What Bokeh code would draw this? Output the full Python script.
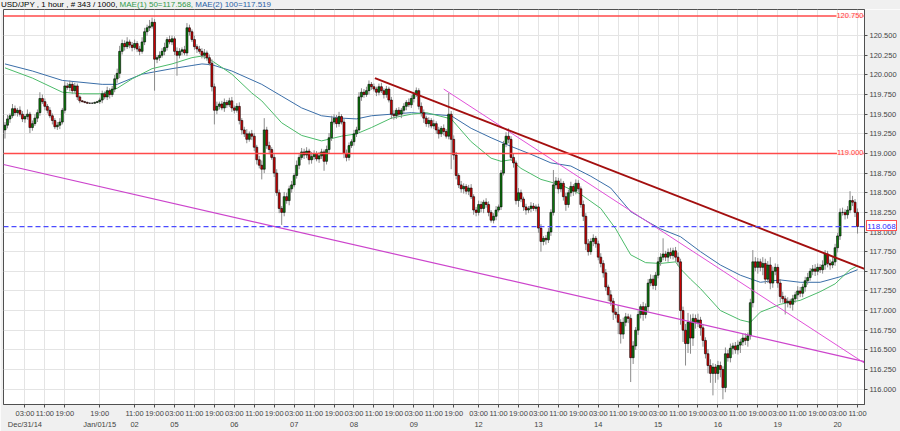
from bokeh.plotting import figure
from bokeh.models import Range1d, FixedTicker, Label, Span, ColumnDataSource, Div
from bokeh.layouts import column
from bokeh.embed import file_html
from bokeh.resources import INLINE

# ---------------- data (hourly USD/JPY candles, index-based x) ----------------
first_open = 119.30
closes = [
    119.36, 119.44, 119.48, 119.57, 119.52, 119.55, 119.50, 119.44, 119.47, 119.50,
    119.33, 119.38, 119.45, 119.52, 119.70, 119.66, 119.60, 119.55, 119.48, 119.42,
    119.34, 119.36, 119.40, 119.55, 119.86, 119.84, 119.88, 119.80, 119.86, 119.72,
    119.67, 119.66, 119.65, 119.64, 119.64, 119.64, 119.65, 119.66, 119.68, 119.76,
    119.72, 119.80, 119.75, 119.82, 119.95, 120.02, 120.30, 120.40, 120.36, 120.42,
    120.38, 120.35, 120.40, 120.33, 120.30, 120.42, 120.55, 120.60, 120.62, 120.67,
    120.20, 120.22, 120.25, 120.30, 120.35, 120.45, 120.42, 120.46, 120.30, 120.25,
    120.30, 120.32, 120.28, 120.60, 120.55, 120.45, 120.36, 120.33, 120.30, 120.25,
    120.28, 120.22, 120.15, 119.85, 119.55, 119.60, 119.63, 119.58, 119.65, 119.62,
    119.67, 119.58, 119.55, 119.60, 119.42, 119.30, 119.25, 119.18, 119.25, 119.22,
    119.08, 118.92, 118.85, 118.80, 119.30, 119.10, 119.05, 118.95, 118.75, 118.50,
    118.30, 118.25, 118.45, 118.40, 118.55, 118.60, 118.72, 118.85, 118.95, 119.02,
    118.98, 119.03, 118.92, 118.96, 119.00, 118.93, 118.97, 119.02, 118.90, 119.05,
    119.20, 119.40, 119.45, 119.38, 119.47, 119.40, 119.00, 118.95, 119.10, 119.15,
    119.25, 119.30, 119.72, 119.78, 119.75, 119.80, 119.88, 119.85, 119.82, 119.78,
    119.85, 119.80, 119.75, 119.82, 119.68, 119.50, 119.48, 119.55, 119.50, 119.55,
    119.60, 119.65, 119.62, 119.70, 119.75, 119.80, 119.60, 119.52, 119.45, 119.38,
    119.42, 119.35, 119.38, 119.30, 119.25, 119.32, 119.28, 119.22, 119.50, 119.18,
    118.98, 118.72, 118.60, 118.55, 118.58, 118.52, 118.56, 118.45, 118.28, 118.25,
    118.35, 118.30, 118.38, 118.35, 118.25, 118.15, 118.20, 118.28, 118.32, 118.75,
    119.12, 119.22, 119.18, 118.95, 118.88, 118.40, 118.50, 118.42, 118.32, 118.28,
    118.30, 118.33, 118.30, 118.32, 118.05, 117.88, 117.92, 117.90, 118.00, 118.25,
    118.60, 118.65, 118.55, 118.62, 118.45, 118.35, 118.50, 118.58, 118.52, 118.62,
    118.55, 118.35, 118.20, 117.85, 117.75, 117.88, 117.92, 117.85, 117.68, 117.60,
    117.48, 117.30, 117.20, 117.12, 116.98, 116.95, 116.85, 116.70, 116.85, 116.92,
    116.90, 116.40, 116.55, 116.75, 116.95, 117.05, 116.95, 117.05, 117.35, 117.40,
    117.32, 117.45, 117.62, 117.68, 117.72, 117.68, 117.74, 117.70, 117.76, 117.68,
    117.62, 117.00, 116.75, 116.58, 116.85, 116.65, 116.90, 116.85, 116.88, 116.78,
    116.62, 116.45, 116.30, 116.20, 116.28, 116.20, 116.30, 116.25, 116.02, 116.45,
    116.40, 116.52, 116.55, 116.50, 116.56, 116.60, 116.65, 116.62, 116.68, 117.10,
    117.62, 117.55, 117.62, 117.55, 117.60, 117.40, 117.58, 117.35, 117.50, 117.55,
    117.35, 117.18, 117.15, 117.10, 117.12, 117.08, 117.15, 117.20, 117.25, 117.22,
    117.30, 117.38, 117.42, 117.50, 117.53, 117.50, 117.55, 117.52, 117.58, 117.72,
    117.60, 117.58, 117.62, 117.80, 117.95, 118.25, 118.25, 118.22, 118.28, 118.40,
    118.38, 118.25, 118.07,
]
# upper / lower shadow length beyond the body, in pips (0.01)
wick_up = [
    4, 5, 3, 6, 4, 3, 5, 4, 3, 6,   3, 4, 5, 4, 8, 5, 4, 3, 4, 3,
    3, 4, 5, 3, 6, 4, 5, 3, 4, 3,   2, 1, 1, 1, 1, 1, 1, 1, 3, 4,
    3, 5, 3, 4, 5, 6, 7, 5, 4, 6,   3, 4, 5, 3, 4, 6, 5, 4, 8, 6,
    4, 3, 5, 4, 6, 3, 5, 4, 3, 5,   4, 3, 5, 6, 4, 3, 5, 3, 4, 4,
    5, 3, 4, 5, 4, 6, 3, 4, 5, 3,   4, 5, 3, 4, 5, 3, 4, 6, 3, 5,
    4, 3, 5, 6, 15, 4, 5, 3, 4, 5,  4, 3, 6, 5, 4, 5, 3, 6, 4, 5,
    4, 5, 3, 6, 4, 3, 5, 4, 3, 5,   6, 8, 5, 4, 6, 3, 4, 5, 4, 3,
    5, 4, 6, 5, 4, 5, 5, 3, 4, 3,   4, 5, 3, 4, 3, 4, 5, 3, 4, 3,
    4, 3, 5, 4, 3, 4, 3, 5, 4, 3,   4, 3, 5, 3, 4, 3, 5, 3, 27, 4,
    5, 4, 3, 5, 4, 3, 4, 5, 3, 4,   5, 4, 3, 5, 4, 3, 4, 5, 3, 4,
    4, 5, 10, 4, 5, 3, 6, 4, 3, 4,  3, 5, 4, 3, 4, 5, 3, 4, 5, 4,
    19, 5, 4, 6, 3, 5, 4, 6, 3, 5,  4, 3, 5, 4, 6, 4, 5, 3, 4, 5,
    4, 5, 3, 6, 4, 5, 12, 4, 6, 5,  4, 5, 6, 4, 5, 3, 6, 4, 5, 6,
    5, 4, 6, 5, 20, 4, 5, 6, 4, 5,  6, 4, 5, 8, 12, 10, 6, 5, 8, 4,
    5, 4, 6, 8, 5, 4, 6, 5, 4, 8,   5, 6, 4, 5, 6, 4, 5, 6, 4, 5,
    15, 6, 5, 4, 8, 6, 5, 10, 6, 5, 4, 5, 6, 4, 5, 3, 5, 4, 6, 5,
    4, 5, 6, 4, 5, 6, 5, 4, 6, 5,   4, 5, 6, 5, 4, 5, 6, 4, 5, 12,
    6, 4, 5,
]
wick_dn = [
    11, 4, 5, 3, 4, 5, 3, 4, 5, 4,  7, 4, 3, 5, 4, 3, 5, 4, 3, 5,
    3, 4, 5, 3, 4, 3, 5, 4, 3, 4,   3, 1, 1, 1, 1, 1, 1, 1, 3, 4,
    3, 4, 5, 3, 4, 5, 6, 4, 5, 3,   4, 5, 3, 4, 5, 3, 4, 5, 4, 3,
    40, 5, 4, 3, 5, 4, 3, 4, 5, 26, 4, 5, 3, 4, 5, 3, 4, 5, 3, 4,
    5, 4, 3, 6, 18, 5, 4, 3, 5, 4,  3, 5, 4, 3, 5, 6, 4, 5, 3, 5,
    5, 6, 4, 13, 5, 4, 6, 3, 5, 4,  6, 16, 5, 4, 6, 5, 3, 4, 5, 3,
    5, 4, 6, 5, 4, 3, 5, 4, 12, 4,  5, 4, 3, 5, 4, 3, 6, 5, 4, 3,
    5, 4, 3, 5, 4, 3, 5, 4, 3, 5,   4, 3, 5, 4, 3, 6, 5, 4, 3, 5,
    4, 5, 3, 4, 5, 3, 4, 5, 6, 4,   5, 3, 4, 5, 6, 4, 5, 3, 4, 38,
    6, 5, 4, 5, 6, 4, 5, 3, 6, 5,   4, 5, 6, 4, 5, 3, 4, 5, 3, 4,
    3, 4, 5, 4, 6, 5, 8, 4, 5, 6,   4, 5, 3, 4, 6, 13, 5, 6, 4, 5,
    4, 5, 6, 4, 5, 8, 4, 5, 6, 4,   5, 4, 6, 8, 5, 4, 6, 5, 4, 5,
    6, 5, 8, 6, 10, 5, 15, 12, 6, 5, 6, 31, 8, 5, 6, 5, 8, 5, 6, 4,
    5, 6, 4, 5, 4, 5, 6, 4, 5, 6,   5, 18, 15, 28, 12, 20, 10, 8, 6, 10,
    8, 6, 10, 12, 28, 12, 8, 10, 15, 6, 5, 6, 8, 5, 6, 10, 5, 6, 8, 5,
    6, 5, 8, 5, 10, 6, 5, 8, 6, 5,  6, 8, 5, 15, 6, 5, 8, 5, 6, 5,
    5, 6, 5, 4, 5, 6, 5, 4, 5, 6,   5, 6, 4, 5, 6, 5, 4, 6, 5, 4,
    5, 6, 9,
]

# moving averages (candle index, value)
ma50_idx = [0, 11, 23, 31, 39, 45, 51, 59, 67, 75, 79, 83, 91, 99, 103, 111, 119, 127, 135, 141,
            147, 155, 163, 169, 179, 187, 195, 199, 203, 207, 215, 223, 231, 239, 245, 251, 257,
            263, 269, 271, 275, 279, 287, 295, 299, 303, 311, 319, 327, 333, 339, 342]
ma50_val = [120.09, 119.96, 119.78, 119.76, 119.76, 119.83, 119.95, 120.08, 120.14, 120.22,
            120.24, 120.18, 120.01, 119.77, 119.67, 119.39, 119.23, 119.16, 119.22, 119.25,
            119.33, 119.45, 119.50, 119.52, 119.44, 119.15, 118.94, 118.90, 118.92, 118.81,
            118.67, 118.60, 118.48, 118.30, 118.04, 117.71, 117.61, 117.60, 117.62, 117.53,
            117.40, 117.28, 117.00, 116.88, 116.85, 116.98, 117.08, 117.13, 117.24, 117.34,
            117.52, 117.57]
ma100_idx = [0, 11, 23, 39, 45, 55, 67, 75, 79, 83, 91, 103, 111, 119, 127, 135, 141, 147, 155,
             163, 171, 179, 187, 195, 203, 211, 219, 227, 235, 243, 251, 259, 263, 271, 279, 287,
             295, 303, 311, 319, 327, 335, 342]
ma100_val = [120.14, 120.05, 119.93, 119.88, 119.88, 120.01, 120.08, 120.12, 120.14, 120.13,
             120.05, 119.88, 119.73, 119.58, 119.48, 119.45, 119.44, 119.48, 119.50, 119.52,
             119.50, 119.48, 119.32, 119.20, 119.09, 118.99, 118.88, 118.84, 118.71, 118.56,
             118.26, 118.11, 118.04, 117.94, 117.75, 117.58, 117.45, 117.36, 117.39, 117.36,
             117.36, 117.43, 117.52]

# hand-drawn trend lines (candle index, price)
trend_red_x = [148.4, 344.8]
trend_red_y = [119.96, 117.53]
trend_pink1_x = [176.0, 344.8]
trend_pink1_y = [119.82, 116.33]
trend_pink2_x = [-0.6, 344.8]
trend_pink2_y = [118.86, 116.35]

# horizontal levels
level_lines = [120.750, 119.000]
last_price = 118.068

# axis ticks
time_ticks = [8, 16, 24, 38, 52, 60, 68, 76, 84, 92, 100, 108, 116, 124, 132, 140, 148, 156, 164,
              172, 180, 190, 198, 206, 214, 222, 230, 238, 246, 254, 262, 270, 278, 286, 294, 302,
              310, 318, 326, 334, 342]
time_labels = ["03:00", "11:00", "19:00", "19:00", "11:00", "19:00", "03:00", "11:00", "19:00",
               "03:00", "11:00", "19:00", "03:00", "11:00", "19:00", "03:00", "11:00", "19:00",
               "03:00", "11:00", "19:00", "03:00", "11:00", "19:00", "03:00", "11:00", "19:00",
               "03:00", "11:00", "19:00", "03:00", "11:00", "19:00", "03:00", "11:00", "19:00",
               "03:00", "11:00", "19:00", "03:00", "11:00"]
date_ticks = [8, 38, 52, 68, 92, 116, 140, 164, 190, 214, 238, 262, 286, 310, 334]
date_labels = ["Dec/31/14", "Jan/01/15", "02", "05", "06", "07", "08", "09", "12", "13", "14",
               "15", "16", "19", "20"]
price_ticks = [116.0, 116.25, 116.5, 116.75, 117.0, 117.25, 117.5, 117.75, 118.0, 118.25,
               118.5, 118.75, 119.0, 119.25, 119.5, 119.75, 120.0, 120.25, 120.5]
price_labels = ["116.000", "116.250", "116.500", "116.750", "117.000", "117.250", "117.500",
                "117.750", "118.000", "118.250", "118.500", "118.750", "119.000", "119.250",
                "119.500", "119.750", "120.000", "120.250", "120.500"]

header_parts = ["USD/JPY , 1 hour , # 343 / 1000,", "MAE(1) 50=117.568,", "MAE(2) 100=117.519"]
header_colors = ["#000000", "#2f9a4a", "#2a62a6"]

# ---------------- build ----------------
FONT = "Liberation Sans"
n = min(len(closes), len(wick_up), len(wick_dn))
cl = closes[:n]
op = [first_open] + cl[:-1]
top = [max(o, c) for o, c in zip(op, cl)]
bot = [min(o, c) for o, c in zip(op, cl)]
hi = [t + u / 100 for t, u in zip(top, wick_up[:n])]
lo = [b - d / 100 for b, d in zip(bot, wick_dn[:n])]
col = ["#0b7d0b" if c >= o else "#d00000" for o, c in zip(op, cl)]
src = ColumnDataSource(dict(x=list(range(n)), hi=hi, lo=lo, top=top, bot=bot, col=col))

W, H = 900, 431
HEADER_H = 9
p = figure(width=W, height=H - HEADER_H, output_backend="svg", toolbar_location=None, tools="",
           x_range=Range1d(-0.6, 344.8), y_range=Range1d(115.804, 120.833),
           y_axis_location="right", min_border_left=3, min_border_top=0,
           min_border_right=36, min_border_bottom=0)
p.background_fill_color = "white"
p.border_fill_color = "#f0f0f0"
p.outline_line_color = "#505050"
p.outline_line_width = 1

p.xgrid.grid_line_color = "#e4e4e4"
p.ygrid.grid_line_color = "#e4e4e4"

# x axis: times, with the date on a second line
date_map = dict(zip(date_ticks, date_labels))
xa = p.xaxis[0]
xa.ticker = FixedTicker(ticks=time_ticks)
xa.major_label_overrides = {t: (l + "\n" + date_map[t]) if t in date_map else l
                            for t, l in zip(time_ticks, time_labels)}
xa.major_tick_in = 0
xa.major_tick_out = 3
xa.minor_tick_line_color = None
xa.axis_line_color = "#505050"
xa.major_tick_line_color = "#505050"
xa.major_label_text_font = FONT
xa.major_label_text_font_size = "7.5px"
xa.major_label_text_line_height = 1.25
xa.major_label_standoff = 1
xa.axis_label_standoff = 0

ya = p.yaxis[0]
ya.ticker = FixedTicker(ticks=price_ticks)
ya.major_label_overrides = {t: l for t, l in zip(price_ticks, price_labels)}
ya.major_tick_in = 0
ya.major_tick_out = 3
ya.minor_tick_line_color = None
ya.axis_line_color = "#505050"
ya.major_tick_line_color = "#505050"
ya.major_label_text_font = FONT
ya.major_label_text_font_size = "7.5px"
ya.major_label_standoff = 2
ya.axis_label_standoff = 0

# moving averages
p.line(ma100_idx, ma100_val, line_color="#3a6ea8", line_width=1)
p.line(ma50_idx, ma50_val, line_color="#4cbb6a", line_width=1)

# candles
p.segment(x0="x", y0="lo", x1="x", y1="hi", source=src, line_color="#8c8c8c", line_width=1)
p.vbar(x="x", width=0.8, top="top", bottom="bot", source=src, fill_color="col",
       line_color="#000000", line_width=0.6)

# trend lines
p.line(trend_pink2_x, trend_pink2_y, line_color="#cc44cc", line_width=1.2)
p.line(trend_pink1_x, trend_pink1_y, line_color="#e050d8", line_width=1)
p.line(trend_red_x, trend_red_y, line_color="#a30f0f", line_width=2)

# horizontal levels
for lv in level_lines:
    p.add_layout(Span(location=lv, dimension="width", line_color="#ff4a4a", line_width=1.6))
    p.add_layout(Label(x=344.8, y=lv, text="%.3f" % lv, text_align="right",
                       text_baseline="bottom", x_offset=-1, y_offset=-2,
                       text_color="#ff3c3c", text_font=FONT, text_font_size="7.5px",
                       background_fill_color="#fff4f4", background_fill_alpha=0.9))
p.add_layout(Span(location=last_price, dimension="width", line_color="#4b4bff",
                  line_width=1.2, line_dash="5 3"))

# header line above the chart (plus the last-price tag that sits on the price scale)
y0, y1 = 115.804, 120.833
frame_top, frame_bottom = HEADER_H, 403
tag_top = frame_top + (y1 - last_price) / (y1 - y0) * (frame_bottom - frame_top) - 6
header_html = "&nbsp;".join('<span style="color:%s">%s</span>' % (c, t)
                            for t, c in zip(header_parts, header_colors))
header_html += ('<span style="position:absolute; left:866px; top:%dpx; width:31px; height:11px;'
                ' line-height:11px; text-align:center; color:#2b2bff; background:#ffffff;'
                ' border:1px solid #ff5050; box-sizing:border-box; z-index:50;">%.3f</span>'
                % (round(tag_top), last_price))
header = Div(text=header_html, width=W, height=HEADER_H, margin=(0, 0, 0, 0),
             styles={"font-family": FONT, "font-size": "8px", "line-height": "9px",
                     "white-space": "nowrap", "background-color": "#f0f0f0",
                     "padding-left": "1px", "overflow": "visible", "z-index": "20"})

layout = column(header, p, spacing=0)
open("out.html", "w").write(file_html(layout, INLINE))
